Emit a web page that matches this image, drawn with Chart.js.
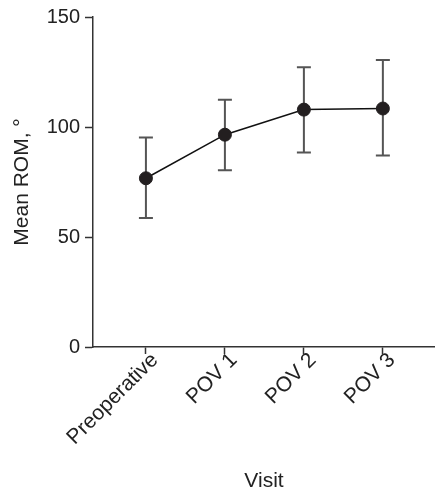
<!DOCTYPE html>
<html>
<head>
<meta charset="utf-8">
<script src="https://cdn.jsdelivr.net/npm/chart.js@4.4.1/dist/chart.umd.min.js"></script>
<style>
  body { margin: 0; background: #fff; }
  #wrap { width: 435px; height: 495px; }
</style>
</head>
<body>
<div id="wrap"><canvas id="romChart"></canvas></div>
<script>
// values
const visits = ['Preoperative', 'POV 1', 'POV 2', 'POV 3'];
const meanRom = [76.7, 96.5, 107.9, 108.4];
const errUpper = [95.2, 112.4, 127.2, 130.5];
const errLower = [58.6, 80.3, 88.4, 87.0];
const yTicks = [0, 50, 100, 150];

const fontFamily = '"Liberation Sans", Arial, Helvetica, sans-serif';
const axisColor = '#333';

// vertical error bars with caps, drawn under the points
const errorBars = {
  id: 'errorBars',
  beforeDatasetsDraw(chart) {
    const ctx = chart.ctx;
    const xs = chart.scales.x;
    const ys = chart.scales.y;
    ctx.save();
    ctx.strokeStyle = '#555';
    ctx.lineWidth = 2;
    for (let i = 0; i < visits.length; i++) {
      const x = xs.getPixelForValue(i);
      const top = ys.getPixelForValue(errUpper[i]);
      const bot = ys.getPixelForValue(errLower[i]);
      ctx.beginPath();
      ctx.moveTo(x, top);
      ctx.lineTo(x, bot);
      ctx.moveTo(x - 7, top);
      ctx.lineTo(x + 7, top);
      ctx.moveTo(x - 7, bot);
      ctx.lineTo(x + 7, bot);
      ctx.stroke();
    }
    ctx.restore();
  }
};

const ctx = document.getElementById('romChart').getContext('2d');
new Chart(ctx, {
  type: 'line',
  data: {
    datasets: [{
      data: meanRom.map((v, i) => ({ x: i, y: v })),
      borderColor: '#111',
      borderWidth: 1.5,
      pointBackgroundColor: '#231f20',
      pointBorderColor: '#231f20',
      pointRadius: 6.5,
      pointBorderWidth: 1,
      fill: false,
      tension: 0
    }]
  },
  plugins: [errorBars],
  options: {
    responsive: true,
    maintainAspectRatio: false,
    animation: false,
    layout: { autoPadding: false, padding: { top: 16, right: 0, left: 0, bottom: 0 } },
    plugins: {
      legend: { display: false },
      tooltip: { enabled: false }
    },
    scales: {
      x: {
        type: 'linear',
        min: -0.67,
        max: 3.66,
        afterBuildTicks: (scale) => {
          scale.ticks = visits.map((_, i) => ({ value: i }));
        },
        afterFit: (scale) => {
          scale.height = 148;
          scale.paddingLeft = 0;
          scale.paddingRight = 0;
        },
        grid: {
          drawOnChartArea: false,
          drawTicks: true,
          tickLength: 7,
          tickWidth: 1.5,
          tickColor: axisColor
        },
        border: { display: true, color: axisColor, width: 1.5 },
        ticks: {
          autoSkip: false,
          minRotation: 45,
          maxRotation: 45,
          padding: -6,
          labelOffset: 9,
          color: '#222',
          font: { family: fontFamily, size: 21, lineHeight: 1.2 },
          callback: (value) => visits[value]
        },
        title: {
          display: true,
          text: 'Visit',
          color: '#222',
          font: { family: fontFamily, size: 21, lineHeight: 1.2 },
          padding: { top: 0, bottom: 1 }
        }
      },
      y: {
        min: 0,
        max: 150,
        afterBuildTicks: (scale) => {
          scale.ticks = yTicks.map(v => ({ value: v }));
        },
        afterFit: (scale) => { scale.width = 93; },
        grid: {
          drawOnChartArea: false,
          drawTicks: true,
          tickLength: 8,
          tickWidth: 1.5,
          tickColor: axisColor
        },
        border: { display: true, color: axisColor, width: 1.5 },
        ticks: {
          padding: 5,
          color: '#222',
          font: { family: fontFamily, size: 20, lineHeight: 1.2 }
        },
        title: {
          display: true,
          text: 'Mean ROM, °',
          color: '#222',
          font: { family: fontFamily, size: 21, lineHeight: 1.2 },
          padding: { top: 10, bottom: 0 }
        }
      }
    }
  }
});
</script>
</body>
</html>
